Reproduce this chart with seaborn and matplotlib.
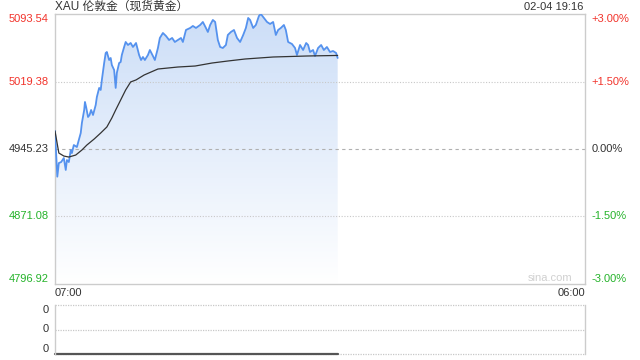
import numpy as np
import pandas as pd
import matplotlib
matplotlib.use("Agg")
import matplotlib.pyplot as plt
import seaborn as sns

# ---- data (minutes after 07:00, price) ----
minutes = [0, 6, 10, 16, 23, 28, 31, 36, 41, 44, 49, 57, 62, 67, 70, 76, 78, 81, 86, 90,
           94, 99, 106, 109, 115, 119, 122, 128, 132, 135, 141, 145, 148, 154, 158, 161,
           167, 171, 174, 180, 184, 190, 197, 203, 211, 219, 224, 229,
           234, 242, 247, 255, 260, 268, 273, 281, 289, 297, 305, 312, 320, 328,
           333, 341, 352, 359, 367, 378, 385, 393, 398, 404, 411, 417, 424, 430, 437, 445,
           450, 458, 466, 474, 482, 490, 497, 503, 508, 516, 523, 531, 536, 544, 552, 560,
           568, 575, 581, 588, 596, 601, 607, 617, 625, 630, 638, 646, 654, 659, 664, 672,
           677, 685, 693, 700, 708, 716, 724, 732, 736]
price = [4965.0, 4914.8, 4929.8, 4930.9, 4935.3, 4922.2, 4933.1, 4930.9, 4944.1, 4940.8,
         4949.6, 4947.4, 4955.1, 4962.8, 4973.8, 4988.1, 4996.9, 4991.4, 4980.4, 4982.6,
         4988.1, 4982.6, 4993.6, 5002.4, 5012.3, 5010.1, 5021.1, 5039.7, 5050.7, 5051.8,
         5043.0, 5045.2, 5037.5, 5032.0, 5012.3, 5028.8, 5039.7, 5040.8, 5048.5, 5057.3,
         5062.8, 5059.5, 5061.7, 5057.3, 5061.7, 5048.5, 5043.0, 5046.3,
         5043.0, 5048.5, 5054.0, 5047.4, 5043.0, 5056.2, 5067.2, 5072.7, 5069.4, 5065.0,
         5067.2, 5062.8, 5065.0, 5067.2, 5062.8, 5076.0, 5078.2, 5080.4, 5078.2, 5081.5,
         5084.8, 5078.2, 5073.8, 5081.5, 5087.0, 5084.8, 5065.0, 5057.3, 5056.2, 5059.5,
         5070.5, 5073.8, 5076.0, 5067.2, 5062.8, 5070.5, 5078.2, 5089.2, 5087.0, 5078.2,
         5081.5, 5091.4, 5093.5, 5089.2, 5084.8, 5082.6, 5084.8, 5070.5, 5076.0, 5078.2,
         5081.5, 5076.0, 5062.8, 5060.6, 5056.2, 5048.5, 5059.5, 5054.0, 5061.7, 5059.5,
         5051.8, 5054.0, 5047.4, 5056.2, 5059.5, 5054.0, 5057.3, 5051.8, 5052.9, 5050.7,
         5045.2]
avg_minutes = [0, 10, 23, 36, 54, 70, 83, 102, 119, 135, 148, 158, 171, 184, 197, 211,
               232, 268, 320, 365, 409, 450, 495, 568, 656, 736]
avg_price = [4965.0, 4940.8, 4937.5, 4936.4, 4938.6, 4944.1, 4949.6, 4956.2, 4962.8,
             4969.4, 4979.3, 4988.1, 4999.1, 5010.1, 5018.9, 5021.1, 5026.5, 5033.1,
             5035.3, 5036.4, 5039.7, 5041.9, 5044.1, 5046.3, 5047.4, 5048.0]

prev_close = 4945.23
y_ticks = [5093.54, 5019.38, 4945.23, 4871.08, 4796.92]
pct_labels = ["+3.00%", "+1.50%", "0.00%", "-1.50%", "-3.00%"]
x_labels = ["07:00", "06:00"]
title = "XAU 伦敦金（现货黄金）"
stamp = "02-04 19:16"
x_total = 1380

RED = "#f2332b"
GREEN = "#25b32a"
DARK = "#333333"
BLUE = "#5592ee"

sns.set_theme(style="white")
plt.rcParams["font.family"] = ["Liberation Sans", "Noto Sans CJK SC", "DejaVu Sans"]

df = pd.DataFrame({"t": minutes, "p": price})
dfa = pd.DataFrame({"t": avg_minutes, "p": avg_price})

fig = plt.figure(figsize=(6.4, 3.6), dpi=100)
ax = fig.add_axes([55 / 640, 1 - 284 / 360, 530 / 640, 270 / 360])
ax2 = fig.add_axes([55 / 640, 1 - 354 / 360, 530 / 640, 49 / 360])

ax.set_xlim(0, x_total)
ax.set_ylim(y_ticks[-1], y_ticks[0])

# gradient fill under price
poly = ax.fill_between(df["t"], df["p"], y_ticks[-1], facecolor="none", edgecolor="none")
grad = np.linspace(0, 1, 256).reshape(-1, 1)
top_c = np.array([0.80, 0.87, 0.97])
bot_c = np.array([1.0, 1.0, 1.0])
img = top_c[None, None, :] * (1 - grad[:, :, None]) + bot_c[None, None, :] * grad[:, :, None]
im = ax.imshow(img, extent=[0, x_total, y_ticks[-1], y_ticks[0]], aspect="auto",
               origin="upper", zorder=1)
path = poly.get_paths()[0]
im.set_clip_path(path, transform=ax.transData)

sns.lineplot(data=df, x="t", y="p", ax=ax, color=BLUE, linewidth=1.3, zorder=3)
sns.lineplot(data=dfa, x="t", y="p", ax=ax, color="#333333", linewidth=0.9, zorder=4)

# grid lines
for v in (y_ticks[1], y_ticks[3]):
    ax.axhline(v, color="#c8c8c8", lw=0.8, ls=(0, (1, 1.5)), zorder=2)
ax.axhline(prev_close, color="#b0b0b0", lw=0.8, ls=(0, (3, 3)), zorder=2)

ax.set_xticks([])
ax.set_yticks([])
ax.set_xlabel("")
ax.set_ylabel("")
for s in ax.spines.values():
    s.set_color("#cccccc")
    s.set_linewidth(1)

colors = [RED, RED, DARK, GREEN, GREEN]
vas = ["top", "center", "center", "center", "bottom"]
for v, lab, c, va in zip(y_ticks, pct_labels, colors, vas):
    ax.text(-0.012, v, f"{v:.2f}", transform=ax.get_yaxis_transform(), ha="right", va=va,
            color=c, fontsize=8)
    ax.text(1.012, v, lab, transform=ax.get_yaxis_transform(), ha="left", va=va,
            color=c, fontsize=8)

ax.text(0, -0.033, x_labels[0], transform=ax.transAxes, ha="left", va="center",
        color=DARK, fontsize=8)
ax.text(1, -0.033, x_labels[1], transform=ax.transAxes, ha="right", va="center",
        color=DARK, fontsize=8)
ax.text(0.977, 0.004, "sina.com", transform=ax.transAxes, ha="right", va="bottom",
        color="#d0d0d0", fontsize=8)

fig.text(55 / 640, 1 - 7 / 360, title, ha="left", va="center", color=DARK, fontsize=8.5,
         family=["Liberation Sans", "Noto Sans CJK SC"])
fig.text(583 / 640, 1 - 7 / 360, stamp, ha="right", va="center", color=DARK, fontsize=8)

# lower panel
ax2.set_xlim(0, x_total)
ax2.set_ylim(0, 1)
ax2.set_xticks([])
ax2.set_yticks([])
for k in ("top", "bottom"):
    ax2.spines[k].set_visible(False)
for k in ("left", "right"):
    ax2.spines[k].set_color("#cccccc")
    ax2.spines[k].set_linewidth(1)
for v in (0, 0.5, 1):
    ax2.axhline(v, color="#c8c8c8", lw=0.9, ls=(0, (1, 1)), clip_on=False)
    ax2.text(-0.012, v, "0", transform=ax2.get_yaxis_transform(), ha="right",
             va="bottom" if v == 0 else ("top" if v == 1 else "center"), color=DARK, fontsize=8)
vol = pd.DataFrame({"t": [0, minutes[-1]], "v": [0, 0]})
sns.lineplot(data=vol, x="t", y="v", ax=ax2, color="#555555", linewidth=1.6, clip_on=False)
ax2.set_xlabel("")
ax2.set_ylabel("")

fig.savefig("out.png", dpi=100)
